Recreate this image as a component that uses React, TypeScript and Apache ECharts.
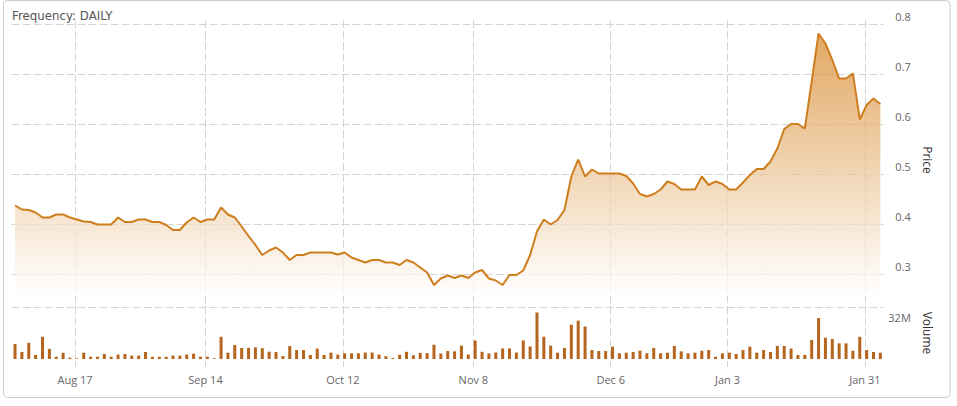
import React, { useEffect, useRef } from "react";
import * as echarts from "echarts";

// Trading days (TSX calendar)
const DATES = [
  "2015-08-04","2015-08-05","2015-08-06","2015-08-07","2015-08-10","2015-08-11","2015-08-12","2015-08-13","2015-08-14",
  "2015-08-17","2015-08-18","2015-08-19","2015-08-20","2015-08-21","2015-08-24","2015-08-25","2015-08-26","2015-08-27","2015-08-28","2015-08-31",
  "2015-09-01","2015-09-02","2015-09-03","2015-09-04","2015-09-08","2015-09-09","2015-09-10","2015-09-11","2015-09-14","2015-09-15",
  "2015-09-16","2015-09-17","2015-09-18","2015-09-21","2015-09-22","2015-09-23","2015-09-24","2015-09-25","2015-09-28","2015-09-29","2015-09-30",
  "2015-10-01","2015-10-02","2015-10-05","2015-10-06","2015-10-07","2015-10-08","2015-10-09","2015-10-13","2015-10-14","2015-10-15","2015-10-16",
  "2015-10-19","2015-10-20","2015-10-21","2015-10-22","2015-10-23","2015-10-26","2015-10-27","2015-10-28","2015-10-29","2015-10-30",
  "2015-11-02","2015-11-03","2015-11-04","2015-11-05","2015-11-06","2015-11-09","2015-11-10","2015-11-11","2015-11-12","2015-11-13",
  "2015-11-16","2015-11-17","2015-11-18","2015-11-19","2015-11-20","2015-11-23","2015-11-24","2015-11-25","2015-11-26","2015-11-27","2015-11-30",
  "2015-12-01","2015-12-02","2015-12-03","2015-12-04","2015-12-07","2015-12-08","2015-12-09","2015-12-10","2015-12-11",
  "2015-12-14","2015-12-15","2015-12-16","2015-12-17","2015-12-18","2015-12-21","2015-12-22","2015-12-23","2015-12-24","2015-12-29","2015-12-30","2015-12-31",
  "2016-01-04","2016-01-05","2016-01-06","2016-01-07","2016-01-08","2016-01-11","2016-01-12","2016-01-13","2016-01-14","2016-01-15",
  "2016-01-18","2016-01-19","2016-01-20","2016-01-21","2016-01-22","2016-01-25","2016-01-26","2016-01-27","2016-01-28","2016-01-29",
  "2016-02-01","2016-02-02","2016-02-03",
];

const PRICE = [
  0.437, 0.429, 0.428, 0.423, 0.413, 0.413, 0.419, 0.419, 0.413, 0.409,
  0.405, 0.404, 0.399, 0.399, 0.399, 0.413, 0.404, 0.404, 0.409, 0.409,
  0.404, 0.404, 0.398, 0.388, 0.388, 0.403, 0.413, 0.404, 0.409, 0.409,
  0.433, 0.419, 0.413, 0.395, 0.376, 0.358, 0.338, 0.347, 0.353, 0.343,
  0.328, 0.338, 0.338, 0.343, 0.343, 0.343, 0.343, 0.339, 0.343, 0.333,
  0.328, 0.323, 0.328, 0.328, 0.323, 0.323, 0.318, 0.328, 0.323, 0.313,
  0.303, 0.278, 0.291, 0.297, 0.292, 0.297, 0.292, 0.303, 0.308, 0.291,
  0.287, 0.278, 0.298, 0.298, 0.307, 0.338, 0.385, 0.409, 0.399, 0.408,
  0.428, 0.495, 0.529, 0.495, 0.509, 0.501, 0.501, 0.501, 0.501, 0.496,
  0.481, 0.46, 0.455, 0.46, 0.469, 0.485, 0.48, 0.469, 0.469, 0.469,
  0.495, 0.478, 0.485, 0.48, 0.469, 0.469, 0.483, 0.498, 0.51, 0.51,
  0.525, 0.551, 0.59, 0.6, 0.6, 0.591, 0.685, 0.781, 0.761, 0.728,
  0.691, 0.691, 0.701, 0.609, 0.638, 0.651, 0.64,
];

// Volume in millions
const VOLUME_M = [
  9.2, 4.3, 10.0, 2.5, 13.7, 6.2, 1.4, 3.9, 0.8, 0.4,
  3.9, 1.4, 1.4, 3.1, 1.4, 2.7, 3.1, 2.1, 2.1, 4.3,
  1.4, 1.4, 1.4, 2.1, 2.1, 2.7, 3.3, 1.4, 1.4, 0.4,
  13.7, 3.9, 8.6, 6.8, 6.8, 7.2, 6.6, 4.5, 4.3, 1.8,
  8.0, 5.5, 5.5, 2.5, 6.4, 2.5, 3.9, 2.7, 3.5, 3.5,
  3.5, 4.0, 4.0, 2.7, 1.7, 0.6, 2.6, 4.4, 2.3, 3.8,
  3.6, 8.8, 3.4, 4.9, 4.7, 8.2, 2.7, 11.4, 4.4, 3.4,
  4.0, 6.5, 6.5, 4.0, 11.4, 7.7, 28.6, 13.7, 8.2, 3.9,
  6.8, 21.1, 23.6, 20.0, 5.5, 4.9, 4.9, 7.6, 3.5, 3.9,
  4.3, 5.1, 3.5, 6.8, 3.5, 3.9, 8.0, 4.7, 3.5, 3.9,
  5.1, 5.5, 1.4, 3.5, 3.9, 3.1, 5.5, 7.6, 3.9, 5.5,
  4.3, 8.0, 8.0, 6.4, 2.5, 2.5, 11.7, 25.2, 13.1, 12.3,
  9.6, 9.6, 5.1, 13.7, 5.5, 4.3, 3.9,
];

const TICK_DATES = ["2015-08-17", "2015-09-14", "2015-10-13", "2015-11-09", "2015-12-07", "2016-01-04", "2016-02-01"];
const TICK_LABELS = ["Aug 17", "Sep 14", "Oct 12", "Nov 8", "Dec 6", "Jan 3", "Jan 31"];

const FONT = "'Open Sans', 'Noto Sans', sans-serif";
const GRID_COLOR = "#d4d4d4";
const LINE_COLOR = "#cf7e1e";
const BAR_COLOR = "#b5651d";

export default function App() {
  const ref = useRef<HTMLDivElement>(null);

  useEffect(() => {
    if (!ref.current) return;
    const chart = echarts.init(ref.current, null, { renderer: "svg" });
    const isTick = (_i: number, value: string) => TICK_DATES.includes(value);
    const dash = { color: GRID_COLOR, width: 1, type: [8, 3] as number[] };

    const option: any = {
      animation: false,
      backgroundColor: "#ffffff",
      textStyle: { fontFamily: FONT },
      graphic: [
        {
          type: "rect",
          silent: true,
          shape: { x: 3.5, y: 0.5, width: 946.5, height: 397, r: 4 },
          style: { fill: "none", stroke: "#cccccc", lineWidth: 1 },
        },
        {
          type: "text",
          silent: true,
          x: 12,
          y: 16,
          style: {
            text: "Frequency: DAILY",
            fill: "#555555",
            font: "11.8px 'DejaVu Sans', sans-serif",
            verticalAlign: "middle",
            align: "left",
          },
        },
      ],
      grid: [
        { left: 13.2, right: 78.4, top: 20, bottom: 39 },
        { left: 11.6, right: 73.2, top: 24, height: 272 },
        { left: 11.6, right: 73.2, top: 307, height: 52 },
      ],
      xAxis: [
        {
          gridIndex: 0,
          type: "category",
          data: DATES,
          boundaryGap: false,
          axisLine: { show: false },
          axisTick: { show: false },
          axisLabel: {
            interval: isTick,
            formatter: (v: string) => {
              const k = TICK_DATES.indexOf(v);
              return k >= 0 ? TICK_LABELS[k] : "";
            },
            color: "#666666",
            fontSize: 11,
            fontFamily: FONT,
            margin: 7,
          },
          splitLine: { show: true, interval: isTick, lineStyle: dash },
        },
        { gridIndex: 1, type: "category", data: DATES, boundaryGap: true, show: false },
        { gridIndex: 2, type: "category", data: DATES, boundaryGap: true, show: false },
      ],
      yAxis: [
        { gridIndex: 0, type: "value", show: false, min: 0, max: 1, splitLine: { show: false } },
        {
          gridIndex: 1,
          type: "value",
          position: "right",
          min: 0.256,
          max: 0.8,
          splitNumber: 5,
          axisLine: { show: false },
          axisTick: { show: false },
          axisLabel: {
            showMinLabel: false,
            formatter: (v: number) => {
              const r = Math.round(v * 10) / 10;
              return Math.abs(r - v) < 1e-6 ? r.toFixed(1) : "";
            },
            align: "right",
            margin: 27,
            verticalAlign: "bottom",
            padding: [0, 0, 2, 0],
            color: "#666666",
            fontSize: 11,
            fontFamily: FONT,
          },
          splitLine: { show: true, showMinLine: false, lineStyle: dash },
          name: "Price",
          nameLocation: "middle",
          nameRotate: -90,
          nameGap: 37,
          nameTextStyle: { color: "#333333", fontSize: 12, fontFamily: FONT },
        },
        {
          gridIndex: 2,
          type: "value",
          position: "right",
          min: 0,
          max: 32,
          interval: 32,
          axisLine: { show: false },
          axisTick: { show: false },
          axisLabel: {
            showMinLabel: false,
            formatter: (v: number) => (v === 32 ? "32M" : ""),
            align: "right",
            margin: 27,
            verticalAlign: "top",
            padding: [5, 0, 0, 0],
            color: "#666666",
            fontSize: 11,
            fontFamily: FONT,
          },
          splitLine: { show: true, showMinLine: false, lineStyle: dash },
          name: "Volume",
          nameLocation: "middle",
          nameRotate: -90,
          nameGap: 37,
          nameTextStyle: { color: "#333333", fontSize: 12, fontFamily: FONT },
        },
      ],
      series: [
        {
          type: "line",
          name: "Price",
          xAxisIndex: 1,
          yAxisIndex: 1,
          data: PRICE,
          symbol: "none",
          lineStyle: { color: LINE_COLOR, width: 2 },
          areaStyle: {
            color: new echarts.graphic.LinearGradient(0, 0, 0, 1, [
              { offset: 0, color: "#d5821f" },
              { offset: 1, color: "#ffffff" },
            ]),
          },
        },
        {
          type: "bar",
          name: "Volume",
          xAxisIndex: 2,
          yAxisIndex: 2,
          data: VOLUME_M,
          barWidth: 3,
          itemStyle: { color: BAR_COLOR },
        },
      ],
    };

    chart.setOption(option);
    return () => chart.dispose();
  }, []);

  return (
    <div
      ref={ref}
      style={{ position: "absolute", left: 0, top: 0, width: 957, height: 406 }}
    />
  );
}
